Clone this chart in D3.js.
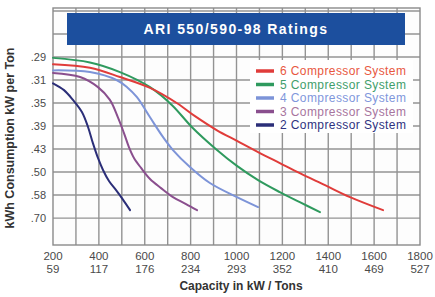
<!DOCTYPE html>
<html>
<head>
<meta charset="utf-8">
<script src="https://cdn.jsdelivr.net/npm/d3@7"></script>
<style>
  body { margin: 0; background: #fff; }
  text { font-family: "Liberation Sans", Arial, sans-serif; }
</style>
</head>
<body>
<div id="chart"></div>
<script>
// capacity (kW) and consumption (kW per ton)
var cap6 = [200, 361, 492, 623, 741, 819, 915, 1002, 1094, 1189, 1276, 1386, 1495, 1639];
var kwt6 = [.301, .305, .316, .330, .352, .373, .399, .421, .447, .476, .506, .547, .595, .658];
var cap5 = [200, 361, 492, 623, 719, 806, 911, 1002, 1094, 1189, 1276, 1364];
var kwt5 = [.294, .299, .310, .329, .355, .393, .440, .484, .529, .574, .618, .669];
var cap4 = [200, 361, 479, 523, 566, 623, 680, 723, 797, 884, 1002, 1094];
var kwt4 = [.308, .310, .320, .329, .343, .375, .413, .442, .487, .539, .595, .642];
var cap3 = [200, 318, 396, 448, 483, 509, 531, 553, 584, 623, 671, 723, 780, 828];
var kwt3 = [.311, .316, .329, .347, .375, .404, .435, .462, .490, .525, .558, .595, .627, .658];
var cap2 = [200, 248, 287, 326, 353, 374, 396, 418, 444, 475, 505, 536];
var kwt2 = [.324, .333, .347, .366, .393, .426, .462, .496, .532, .566, .606, .658];

var seriesNames = ["6 Compressor System", "5 Compressor System", "4 Compressor System",
                   "3 Compressor System", "2 Compressor System"];

// axis ticks: kW / tons underneath, kW per ton on the side (drawn at COP steps)
var xTicks = [200, 400, 600, 800, 1000, 1200, 1400, 1600, 1800];
var tonLabels = ["59", "117", "176", "234", "293", "352", "410", "469", "527"];
var yTickCop = [12, 11, 10, 9, 8, 7, 6, 5];
var yTickLabels = [".29", ".31", ".35", ".39", ".43", ".50", ".58", ".70"];

var lineColors = ["#e03c3a", "#2f9a5e", "#7d94d8", "#8a4f8e", "#2b2e78"];
var textColors = ["#e8583f", "#3f9e6c", "#7f97dc", "#a8759e", "#2e3280"];

var W = 435, H = 297;
var plot = {left: 53, right: 420, top: 8, bottom: 245};

var svg = d3.select("#chart").append("svg")
  .attr("width", W)
  .attr("height", H);

var x = d3.scaleLinear().domain([200, 1800]).range([plot.left, plot.right]);
// the side axis is evenly spaced in COP, kW/ton = 3.517 / COP
var y = d3.scaleLinear().domain([3.83, 14.13]).range([plot.bottom, plot.top]);
function yk(v) { return y(3.517 / v); }

// plot background
svg.append("rect")
  .attr("x", plot.left).attr("y", plot.top)
  .attr("width", plot.right - plot.left).attr("height", plot.bottom - plot.top)
  .attr("fill", "#fdfdfd");

// grid
var grid = svg.append("g").attr("stroke", "#939393").attr("stroke-width", 1.4);
grid.selectAll(".vg")
  .data(d3.range(300, 1800, 100))
  .enter().append("line")
    .attr("x1", function(d) { return x(d); }).attr("x2", function(d) { return x(d); })
    .attr("y1", plot.top).attr("y2", plot.bottom);
grid.selectAll(".hg")
  .data(d3.range(5, 15))
  .enter().append("line")
    .attr("x1", plot.left).attr("x2", plot.right)
    .attr("y1", function(d) { return y(d); }).attr("y2", function(d) { return y(d); });
svg.append("rect")
  .attr("x", plot.left).attr("y", plot.top)
  .attr("width", plot.right - plot.left).attr("height", plot.bottom - plot.top)
  .attr("fill", "none").attr("stroke", "#8a8a8a").attr("stroke-width", 1.4);

// title banner
svg.append("rect")
  .attr("x", 67).attr("y", 13)
  .attr("width", 338).attr("height", 32)
  .attr("fill", "#1c4f9e");
svg.append("text")
  .attr("x", 236).attr("y", 34)
  .attr("text-anchor", "middle")
  .attr("fill", "#fff")
  .style("font-size", "14px").style("font-weight", "bold")
  .style("letter-spacing", "1.4px")
  .text("ARI 550/590-98 Ratings");

// curves
var line = d3.line()
  .x(function(d) { return x(d[0]); })
  .y(function(d) { return yk(d[1]); })
  .curve(d3.curveCatmullRom.alpha(0.5));

var caps = [cap6, cap5, cap4, cap3, cap2];
var kwts = [kwt6, kwt5, kwt4, kwt3, kwt2];
// draw from 2 up to 6 so the big systems sit on top
[4, 3, 2, 1, 0].forEach(function(i) {
  svg.append("path")
    .datum(d3.zip(caps[i], kwts[i]))
    .attr("d", line)
    .attr("fill", "none")
    .attr("stroke", lineColors[i])
    .attr("stroke-width", 2)
    .attr("stroke-linecap", "round");
});

// legend
var lg = svg.append("g").attr("transform", "translate(250,60)");
lg.append("rect")
  .attr("width", 163).attr("height", 73)
  .attr("fill", "#fff");
seriesNames.forEach(function(name, i) {
  var ly = 11 + i * 13.5;
  lg.append("line")
    .attr("x1", 6).attr("x2", 24)
    .attr("y1", ly).attr("y2", ly)
    .attr("stroke", lineColors[i]).attr("stroke-width", 3.5);
  lg.append("text")
    .attr("x", 30).attr("y", ly + 4)
    .attr("fill", textColors[i])
    .style("font-size", "12px")
    .style("letter-spacing", "0.4px")
    .text(name);
});

// y tick labels
svg.selectAll(".yl")
  .data(yTickCop)
  .enter().append("text")
    .attr("x", 46)
    .attr("y", function(d) { return y(d) + 4; })
    .attr("text-anchor", "end")
    .attr("fill", "#4a4a4a")
    .style("font-size", "11px")
    .text(function(d, i) { return yTickLabels[i]; });

// x tick labels, kW over tons
var xl = svg.selectAll(".xl")
  .data(xTicks)
  .enter().append("g")
    .attr("transform", function(d) { return "translate(" + x(d) + ",0)"; });
xl.append("text")
  .attr("y", 260).attr("text-anchor", "middle")
  .attr("fill", "#4a4a4a").style("font-size", "11.5px")
  .text(function(d) { return d; });
xl.append("text")
  .attr("y", 272.5).attr("text-anchor", "middle")
  .attr("fill", "#4a4a4a").style("font-size", "11.5px")
  .text(function(d, i) { return tonLabels[i]; });

// axis titles
svg.append("text")
  .attr("x", 241).attr("y", 290)
  .attr("text-anchor", "middle")
  .attr("fill", "#333")
  .style("font-size", "12px").style("font-weight", "bold")
  .text("Capacity in kW / Tons");
svg.append("text")
  .attr("transform", "translate(14,138) rotate(-90)")
  .attr("text-anchor", "middle")
  .attr("fill", "#333")
  .style("font-size", "12.5px").style("font-weight", "bold")
  .text("kWh Consumption kW per Ton");
</script>
</body>
</html>
